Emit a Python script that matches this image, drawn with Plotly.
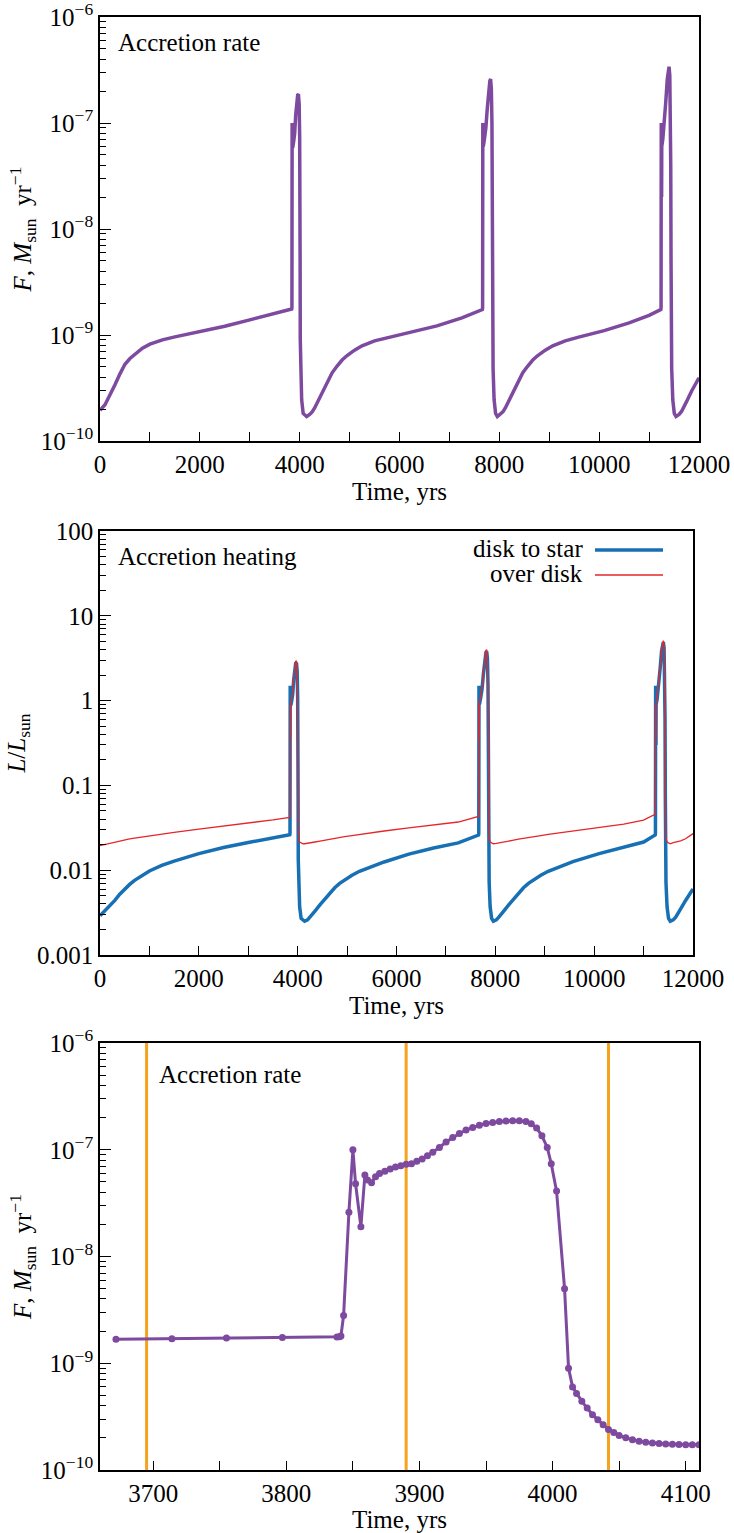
import plotly.graph_objects as go

# ---------------- data ----------------
# Panels 1-2: long-term evolution (time in yrs). Segments: quiescent 1, burst 1, quiescent 2,
# burst 2, quiescent 3, burst 3, tail.
T_LONG = [0, 50, 100, 150, 200, 300, 400, 500, 600, 700, 850, 1000, 1250, 1500, 2000, 2500, 3000, 3500, 3840,
          3845, 3849, 3852, 3856, 3859, 3880, 3900, 3920, 3940, 3960, 3975, 3990, 4000, 4005, 4009, 4012, 4020, 4040, 4070, 4110, 4140,
          4200, 4250, 4300, 4350, 4450, 4550, 4650, 4750, 4850, 4950, 5100, 5250, 5500, 5750, 6250, 6750, 7250, 7660,
          7665, 7669, 7672, 7676, 7679, 7700, 7730, 7760, 7790, 7810, 7825, 7840, 7852, 7858, 7863, 7867, 7875, 7895, 7925, 7960,
          8020, 8070, 8120, 8170, 8270, 8370, 8470, 8570, 8670, 8770, 8920, 9070, 9320, 9570, 10100, 10600, 11000, 11235,
          11240, 11244, 11247, 11251, 11254, 11275, 11305, 11335, 11365, 11385, 11400, 11415, 11428, 11434, 11440, 11445, 11453, 11475, 11505, 11540,
          11600, 11650, 11700, 11750, 11850, 11950, 12000]

MDOT_LONG = [1.95e-10, 2.05e-10, 2.2e-10, 2.45e-10, 2.7e-10, 3.4e-10, 4.3e-10, 5.3e-10, 6.0e-10, 6.6e-10, 7.5e-10, 8.2e-10, 9.0e-10, 9.6e-10, 1.07e-9, 1.21e-9, 1.39e-9, 1.6e-9, 1.76e-9,
             1.8e-9, 1.0e-7, 4.8e-8, 1.9e-8, 5.8e-8, 6.7e-8, 8.0e-8, 1.18e-7, 1.62e-7, 1.84e-7, 1.87e-7, 1.5e-7, 7.2e-8, 4.1e-8, 5e-9, 9e-10, 4.8e-10, 2.45e-10, 1.82e-10, 1.72e-10, 1.70e-10,
             1.78e-10, 1.88e-10, 2.05e-10, 2.3e-10, 2.9e-10, 3.6e-10, 4.4e-10, 5.1e-10, 5.8e-10, 6.4e-10, 7.2e-10, 7.9e-10, 8.8e-10, 9.4e-10, 1.07e-9, 1.22e-9, 1.45e-9, 1.74e-9,
             1.8e-9, 1.0e-7, 5e-8, 2e-8, 6e-8, 7e-8, 9e-8, 1.4e-7, 2.1e-7, 2.5e-7, 2.6e-7, 2.1e-7, 1.0e-7, 4e-8, 5e-9, 9e-10, 4.8e-10, 2.45e-10, 1.82e-10, 1.70e-10,
             1.78e-10, 1.88e-10, 2.05e-10, 2.3e-10, 2.9e-10, 3.6e-10, 4.4e-10, 5.1e-10, 5.8e-10, 6.4e-10, 7.2e-10, 7.9e-10, 8.8e-10, 9.5e-10, 1.1e-9, 1.3e-9, 1.53e-9, 1.74e-9,
             1.8e-9, 1.0e-7, 5e-8, 2e-8, 6e-8, 7e-8, 1.0e-7, 1.6e-7, 2.6e-7, 3.2e-7, 3.4e-7, 2.8e-7, 1.2e-7, 4e-8, 5e-9, 9e-10, 4.8e-10, 2.45e-10, 1.82e-10, 1.70e-10,
             1.78e-10, 1.9e-10, 2.1e-10, 2.35e-10, 2.95e-10, 3.6e-10, 3.95e-10]

L_DISK_TO_STAR = [0.0029, 0.0031, 0.0033, 0.0035, 0.0038, 0.0044, 0.0052, 0.006, 0.0068, 0.0076, 0.0087, 0.0098, 0.0114, 0.0128, 0.0157, 0.0185, 0.0212, 0.024, 0.0262,
                  0.027, 1.5, 0.72, 0.29, 0.87, 1.0, 1.2, 1.77, 2.43, 2.76, 2.8, 2.25, 1.08, 0.62, 0.075, 0.0135, 0.0072, 0.0037, 0.0027, 0.0026, 0.0025,
                  0.0026, 0.0028, 0.003, 0.0033, 0.0039, 0.0046, 0.0054, 0.0062, 0.007, 0.0077, 0.0087, 0.0097, 0.0111, 0.0125, 0.0155, 0.0183, 0.021, 0.026,
                  0.027, 1.5, 0.75, 0.3, 0.9, 1.05, 1.35, 2.1, 3.15, 3.7, 3.8, 3.15, 1.5, 0.6, 0.075, 0.0135, 0.0072, 0.0037, 0.0027, 0.0025,
                  0.0026, 0.0028, 0.003, 0.0033, 0.0039, 0.0046, 0.0054, 0.0062, 0.007, 0.0077, 0.0087, 0.0097, 0.0111, 0.0126, 0.0157, 0.0186, 0.0215, 0.026,
                  0.027, 1.5, 0.75, 0.3, 0.9, 1.05, 1.5, 2.4, 3.9, 4.7, 4.9, 4.2, 1.8, 0.6, 0.075, 0.0135, 0.0072, 0.0037, 0.0027, 0.0025,
                  0.0026, 0.0028, 0.0031, 0.0035, 0.0044, 0.0054, 0.006]

L_OVER_DISK = [0.0195, 0.0198, 0.0201, 0.0205, 0.0209, 0.0216, 0.0222, 0.0228, 0.0234, 0.0239, 0.0247, 0.0255, 0.0268, 0.028, 0.0305, 0.033, 0.0358, 0.0392, 0.042,
               0.045, 0.9, 0.6, 0.35, 0.9, 1.05, 1.25, 1.85, 2.55, 2.9, 2.95, 2.35, 1.1, 0.6, 0.09, 0.03, 0.024, 0.0215, 0.021, 0.0205, 0.0205,
               0.0207, 0.0209, 0.0212, 0.0215, 0.022, 0.0226, 0.0232, 0.0238, 0.0243, 0.0249, 0.0256, 0.0264, 0.0277, 0.029, 0.0315, 0.034, 0.037, 0.043,
               0.045, 0.9, 0.6, 0.35, 0.95, 1.1, 1.4, 2.2, 3.3, 3.9, 4.0, 3.3, 1.55, 0.6, 0.09, 0.03, 0.024, 0.0215, 0.021, 0.0205,
               0.0207, 0.0209, 0.0212, 0.0215, 0.022, 0.0226, 0.0232, 0.0238, 0.0243, 0.0249, 0.0256, 0.0264, 0.0277, 0.029, 0.0318, 0.035, 0.039, 0.045,
               0.046, 0.9, 0.6, 0.35, 0.95, 1.1, 1.55, 2.5, 4.1, 4.9, 5.1, 4.4, 1.9, 0.6, 0.09, 0.03, 0.024, 0.0215, 0.021, 0.0205,
               0.0212, 0.0215, 0.0218, 0.0222, 0.0235, 0.0255, 0.027]

# Panel 3: zoom on the first burst
T_BURST = [3672, 3714, 3755, 3797, 3838, 3840, 3841, 3843, 3847, 3850, 3852, 3856, 3859, 3861, 3864,
           3867, 3870, 3874, 3878, 3882, 3886, 3890, 3894, 3898, 3902, 3906, 3910, 3915, 3920, 3925, 3930,
           3935, 3940, 3945, 3950, 3955, 3960, 3965, 3970, 3975, 3980, 3984, 3988, 3992, 3996, 3999, 4003,
           4009, 4012, 4015, 4018, 4022, 4026, 4030, 4034, 4038, 4042, 4046, 4050, 4055, 4060, 4065, 4070,
           4075, 4080, 4085, 4090, 4095, 4100, 4105, 4110]
MDOT_BURST = [1.68e-9, 1.70e-9, 1.72e-9, 1.74e-9, 1.76e-9, 1.77e-9, 1.8e-9, 2.8e-9, 2.6e-8, 1.0e-7, 4.8e-8, 1.9e-8, 5.8e-8, 5.2e-8, 4.9e-8,
              5.6e-8, 6.0e-8, 6.3e-8, 6.6e-8, 6.9e-8, 7.1e-8, 7.3e-8, 7.4e-8, 7.8e-8, 8.2e-8, 8.8e-8, 9.5e-8, 1.05e-7, 1.18e-7, 1.3e-7, 1.42e-7,
              1.53e-7, 1.62e-7, 1.7e-7, 1.76e-7, 1.8e-7, 1.84e-7, 1.86e-7, 1.87e-7, 1.87e-7, 1.84e-7, 1.75e-7, 1.6e-7, 1.35e-7, 1.05e-7, 7.4e-8, 4.1e-8,
              5e-9, 9e-10, 6e-10, 5.2e-10, 4.4e-10, 3.8e-10, 3.3e-10, 2.95e-10, 2.65e-10, 2.4e-10, 2.25e-10, 2.1e-10, 2.0e-10, 1.92e-10, 1.86e-10, 1.82e-10,
              1.79e-10, 1.77e-10, 1.75e-10, 1.74e-10, 1.73e-10, 1.72e-10, 1.72e-10, 1.72e-10]
ORANGE_TIMES = [3695, 3890, 4042]

X_TICKS_LONG = [0, 2000, 4000, 6000, 8000, 10000, 12000]
X_TICK_TEXT_LONG = ["0", "2000", "4000", "6000", "8000", "10000", "12000"]
X_TICKS_BURST = [3700, 3800, 3900, 4000, 4100]
X_TICK_TEXT_BURST = ["3700", "3800", "3900", "4000", "4100"]
F_TICKS = [1e-10, 1e-9, 1e-8, 1e-7, 1e-6]
F_TICK_TEXT = ["10<sup>−10</sup>", "10<sup>−9</sup>", "10<sup>−8</sup>", "10<sup>−7</sup>", "10<sup>−6</sup>"]
L_TICKS = [0.001, 0.01, 0.1, 1, 10, 100]
L_TICK_TEXT = ["0.001", "0.01", "0.1", "1", "10", "100"]

assert len(T_LONG) == len(MDOT_LONG) == len(L_DISK_TO_STAR) == len(L_OVER_DISK)
assert len(T_BURST) == len(MDOT_BURST)

# ---------------- style ----------------
W, H = 734, 1533
FONT = "Liberation Serif"
PURPLE = "#7d4a9f"
BLUE = "#1870b4"
RED = "#e5262a"
ORANGE = "#f7a21c"
FS = 25
FS_T = 25


def fx(px):
    return px / W


def fy(py):
    return 1 - py / H


def minor_log(lo, hi):
    vals = []
    for e in range(lo, hi):
        for m in range(2, 10):
            vals.append(m * 10 ** e)
    return vals


fig = go.Figure()

fig.add_trace(go.Scatter(x=T_LONG, y=MDOT_LONG, xaxis="x", yaxis="y", mode="lines",
                         line=dict(color=PURPLE, width=3.5), showlegend=False))
fig.add_trace(go.Scatter(x=T_LONG, y=L_DISK_TO_STAR, xaxis="x2", yaxis="y2", mode="lines",
                         line=dict(color=BLUE, width=3.5), name="disk to star", showlegend=False))
fig.add_trace(go.Scatter(x=T_LONG, y=L_OVER_DISK, xaxis="x2", yaxis="y2", mode="lines",
                         line=dict(color=RED, width=1.3), name="over disk", showlegend=False))
fig.add_trace(go.Scatter(x=T_BURST, y=MDOT_BURST, xaxis="x3", yaxis="y3", mode="lines+markers",
                         line=dict(color=PURPLE, width=3), marker=dict(color=PURPLE, size=7),
                         showlegend=False))

for t in ORANGE_TIMES:
    fig.add_shape(type="line", xref="x3", yref="y3 domain", x0=t, x1=t, y0=0, y1=1,
                  line=dict(color=ORANGE, width=3), layer="below")

tfont = dict(family=FONT, size=FS, color="black")
common_x = dict(ticks="inside", ticklen=9, tickwidth=1.3, tickcolor="black", showline=True,
                mirror=True, linecolor="black", linewidth=1.6, showgrid=False, zeroline=False,
                automargin=False, tickfont=tfont, ticklabelstandoff=0, tickmode="array",
                ticklabeloverflow="allow",
                title=dict(text="Time, yrs", font=dict(family=FONT, size=FS_T, color="black"), standoff=0))
common_y = dict(type="log", ticks="inside", ticklen=11, tickwidth=1.3, tickcolor="black",
                showline=True, mirror=True, linecolor="black", linewidth=1.6, showgrid=False,
                zeroline=False, automargin=False, tickfont=tfont, ticklabelstandoff=0, tickmode="array",
                ticklabeloverflow="allow")
minor_x = dict(ticks="inside", ticklen=9, tickcolor="black", tickwidth=1.3)
minor_y = dict(ticks="inside", ticklen=6, tickcolor="black", tickwidth=1.2, tickmode="array")

p1 = dict(l=100, r=699, t=17, b=441)
p2 = dict(l=100, r=693, t=531, b=955)
p3 = dict(l=100, r=699, t=1043, b=1470)

F_TITLE = "<i>F</i>, <i>M</i><sub>sun</sub>  yr<sup>−1</sup>"

fig.update_layout(
    width=W, height=H, margin=dict(l=0, r=0, t=0, b=0, autoexpand=False),
    plot_bgcolor="white", paper_bgcolor="white",
    xaxis=dict(common_x, domain=[fx(p1["l"]), fx(p1["r"])], anchor="y", range=[0, 12000],
               tickvals=X_TICKS_LONG, ticktext=X_TICK_TEXT_LONG, minor=dict(minor_x, dtick=1000)),
    yaxis=dict(common_y, domain=[fy(p1["b"]), fy(p1["t"])], anchor="x", range=[-10, -6],
               tickvals=F_TICKS, ticktext=F_TICK_TEXT,
               minor=dict(minor_y, tickvals=minor_log(-10, -6)),
               title=dict(text=F_TITLE, font=dict(family=FONT, size=FS_T, color="black"), standoff=2)),
    xaxis2=dict(common_x, domain=[fx(p2["l"]), fx(p2["r"])], anchor="y2", range=[0, 12000],
                tickvals=X_TICKS_LONG, ticktext=X_TICK_TEXT_LONG, minor=dict(minor_x, dtick=1000)),
    yaxis2=dict(common_y, domain=[fy(p2["b"]), fy(p2["t"])], anchor="x2", range=[-3, 2],
                tickvals=L_TICKS, ticktext=L_TICK_TEXT,
                minor=dict(minor_y, tickvals=minor_log(-3, 2)),
                title=dict(text="<i>L</i>/<i>L</i><sub>sun</sub>",
                           font=dict(family=FONT, size=FS_T, color="black"), standoff=4)),
    xaxis3=dict(common_x, domain=[fx(p3["l"]), fx(p3["r"])], anchor="y3", range=[3660, 4110],
                tickvals=X_TICKS_BURST, ticktext=X_TICK_TEXT_BURST,
                minor=dict(minor_x, dtick=50, tick0=3650)),
    yaxis3=dict(common_y, domain=[fy(p3["b"]), fy(p3["t"])], anchor="x3", range=[-10, -6],
                tickvals=F_TICKS, ticktext=F_TICK_TEXT,
                minor=dict(minor_y, tickvals=minor_log(-10, -6)),
                title=dict(text=F_TITLE, font=dict(family=FONT, size=FS_T, color="black"), standoff=2)),
)

ann_font = dict(family=FONT, size=FS, color="black")
fig.add_annotation(text="Accretion rate", xref="paper", yref="paper", x=fx(116), y=fy(42),
                   xanchor="left", yanchor="middle", showarrow=False, font=ann_font)
fig.add_annotation(text="Accretion heating", xref="paper", yref="paper", x=fx(116), y=fy(556),
                   xanchor="left", yanchor="middle", showarrow=False, font=ann_font)
fig.add_annotation(text="Accretion rate", xref="paper", yref="paper", x=fx(157), y=fy(1074),
                   xanchor="left", yanchor="middle", showarrow=False, font=ann_font)

# legend (text to the left of line sample)
fig.add_annotation(text="disk to star", xref="paper", yref="paper", x=fx(585), y=fy(548),
                   xanchor="right", yanchor="middle", showarrow=False, font=ann_font)
fig.add_annotation(text="over disk", xref="paper", yref="paper", x=fx(585), y=fy(573),
                   xanchor="right", yanchor="middle", showarrow=False, font=ann_font)
fig.add_shape(type="line", xref="paper", yref="paper", x0=fx(595), x1=fx(663), y0=fy(550), y1=fy(550),
              line=dict(color=BLUE, width=3.5))
fig.add_shape(type="line", xref="paper", yref="paper", x0=fx(595), x1=fx(663), y0=fy(575), y1=fy(575),
              line=dict(color=RED, width=1.3))

# remove the default 8px page margin so the figure sits at the page corner; hide the modebar
fig.write_html("out.html", config={"displayModeBar": False},
               post_script="document.body.style.margin='0';")
